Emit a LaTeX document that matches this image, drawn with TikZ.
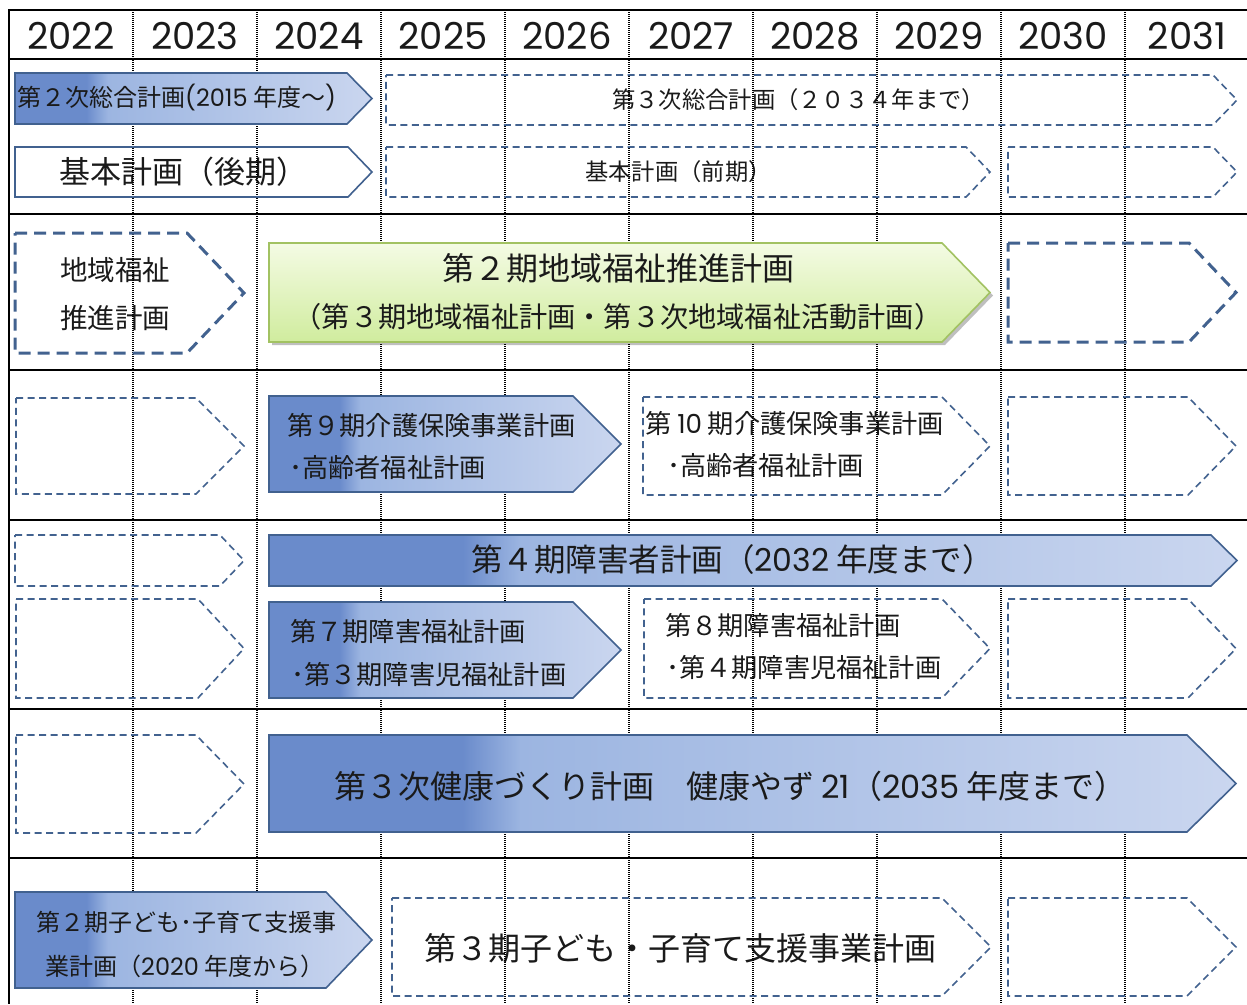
\documentclass[tikz,border=0pt]{standalone}
\usepackage{fontspec}
\setmainfont{Noto Sans CJK JP}
\newfontfamily\yrfont{Poppins}
\usetikzlibrary{shadows}
\definecolor{dashc}{HTML}{42628F}
\definecolor{edgec}{HTML}{41618F}
\definecolor{bdk}{HTML}{6A8BCB}
\definecolor{bmd}{HTML}{9CB5E1}
\definecolor{blt}{HTML}{CAD6EF}
\definecolor{gtop}{HTML}{F4FBE4}
\definecolor{gbot}{HTML}{D0EC9E}
\definecolor{gedge}{HTML}{A2C262}
\definecolor{txtc}{HTML}{1A1A1A}
\pgfdeclarehorizontalshading{planblue}{100bp}{color(0bp)=(bdk); color(25bp)=(bdk); color(35bp)=(bdk); color(38bp)=(bmd); color(75bp)=(blt); color(100bp)=(blt)}
\newcommand\jfs[1]{\fontsize{#1}{#1}\selectfont}
% x1, y1, body end x, tip x, y2
\newcommand\penta[5]{(#1,#2) -- (#3,#2) -- (#4,{(#2+#5)/2}) -- (#3,#5) -- (#1,#5) -- cycle}
\newcommand\lat[1]{{\yrfont #1}}
\tikzset{
  gridv/.style={line width=1.1pt, dash pattern=on 1pt off 1pt, black},
  rowl/.style={line width=2pt, black},
  thindash/.style={line width=1.6pt, dashc, dash pattern=on 7pt off 4.5pt},
  thickdash/.style={line width=3pt, dashc, dash pattern=on 12pt off 7pt},
  bluearrow/.style={line width=1.6pt, draw=edgec, shading=planblue},
  outlinearrow/.style={line width=1.6pt, draw=edgec},
  greenarrow/.style={line width=1.6pt, draw=gedge, top color=gtop, bottom color=gbot,
     drop shadow={shadow xshift=3pt, shadow yshift=-3pt, opacity=0.25, fill=black}},
  txt/.style={inner sep=0pt, anchor=west, text=txtc},
  ctxt/.style={inner sep=0pt, anchor=center, text=txtc},
  yr/.style={inner sep=0pt, anchor=center, text=txtc, font=\yrfont\jfs{37}}
}
\begin{document}
\begin{tikzpicture}[x=1pt,y=-1pt]
\fill[white] (0,0) rectangle (1247,1004);
\useasboundingbox (0,0) rectangle (1247,1004);

% ---- texts inside unfilled shapes (grid lines run over them) ----
\node[txt, font=\jfs{31}] (kihonK) at (59,172) {基本計画（後期）};
\node[txt, font=\jfs{23.3}] (sogo3) at (612,100) {第３次総合計画（２０３４年まで）};
\node[txt, font=\jfs{23.3}] (kihonZ) at (585,172) {基本計画（前期）};
\node[txt, font=\jfs{27.5}] (chiiki1) at (60,270) {地域福祉};
\node[txt, font=\jfs{27.5}] (chiiki2) at (60,318) {推進計画};
\node[txt, font=\jfs{26.2}] (kaigo10a) at (645,424) {第 \lat{10} 期介護保険事業計画};
\node[txt, font=\jfs{26.2}] (kaigo10b) at (667,466) {･高齢者福祉計画};
\node[txt, font=\jfs{26.2}] (shogai8a) at (665,626) {第８期障害福祉計画};
\node[txt, font=\jfs{26.2}] (shogai8b) at (666,668) {･第４期障害児福祉計画};
\node[txt, font=\jfs{32}] (kodomo3) at (424,948) {第３期子ども・子育て支援事業計画};

% ---- grid ----
\foreach \x in {133,257,...,1125} \draw[gridv] (\x,10) -- (\x,1004);
\foreach \y in {10,59,214,370,520,709,858} \draw[rowl] (8,\y) -- (1247,\y);
\draw[rowl] (9,9) -- (9,1004);
\foreach \yy [count=\i from 0] in {2022,...,2031}
  \node[yr] (yr\yy) at ({71+124*\i},36) {\yy};

% ---- dashed (future) plans ----
\draw[thindash] \penta{386}{75}{1213}{1237}{125};
\draw[thindash] \penta{386}{147}{966}{990}{197};
\draw[thindash] \penta{1008}{147}{1213}{1237}{197};
\draw[thickdash] \penta{15}{233}{187}{244}{353};
\draw[thickdash] \penta{1008}{243}{1189}{1236}{342};
\draw[thindash] \penta{16}{398}{196}{244}{494};
\draw[thindash] \penta{643}{397}{942}{990}{495};
\draw[thindash] \penta{1008}{397}{1188}{1236}{495};
\draw[thindash] \penta{15}{535}{220}{244}{586};
\draw[thindash] \penta{16}{599}{198}{244}{698};
\draw[thindash] \penta{644}{599}{942}{990}{698};
\draw[thindash] \penta{1008}{599}{1188}{1236}{698};
\draw[thindash] \penta{16}{735}{196}{244}{833};
\draw[thindash] \penta{392}{898}{942}{991}{996};
\draw[thindash] \penta{1008}{898}{1187}{1236}{996};

% ---- current plans ----
\draw[outlinearrow] \penta{15}{147}{348}{372}{197};
\draw[bluearrow] \penta{15}{73}{347}{372}{124};
\draw[greenarrow] \penta{269}{243}{942}{990}{342};
\draw[bluearrow] \penta{269}{396}{573}{621}{492};
\draw[bluearrow] \penta{269}{535}{1211}{1237}{586};
\draw[bluearrow] \penta{269}{602}{573}{621}{698};
\draw[bluearrow] \penta{269}{735}{1187}{1236}{832};
\draw[bluearrow] \penta{15}{892}{326}{372}{988};

% ---- texts on filled shapes ----
\node[txt, font=\jfs{24}] (sogo2) at (17,98) {第２次総合計画\lat{(2015} 年度～\lat{)}};
\node[ctxt, font=\jfs{32}] (suishin2a) at (618,268) {第２期地域福祉推進計画};
\node[ctxt, font=\jfs{28.2}] (suishin2b) at (618,317) {（第３期地域福祉計画・第３次地域福祉活動計画）};
\node[txt, font=\jfs{26.2}] (kaigo9a) at (287,426) {第９期介護保険事業計画};
\node[txt, font=\jfs{26.2}] (kaigo9b) at (289,468) {･高齢者福祉計画};
\node[txt, font=\jfs{31.5}] (shogai4) at (471,560) {第４期障害者計画（\lat{2032} 年度まで）};
\node[txt, font=\jfs{26.2}] (shogai7a) at (290,632) {第７期障害福祉計画};
\node[txt, font=\jfs{26.2}] (shogai7b) at (291,675) {･第３期障害児福祉計画};
\node[txt, font=\jfs{32}] (kenko) at (334,786) {第３次健康づくり計画　健康やず \lat{21}（\lat{2035} 年度まで）};
\node[txt, font=\jfs{24}] (kodomo2a) at (36,922) {第２期子ども･子育て支援事};
\node[txt, font=\jfs{24}] (kodomo2b) at (45,966) {業計画（\lat{2020} 年度から）};
\end{tikzpicture}
\end{document}
